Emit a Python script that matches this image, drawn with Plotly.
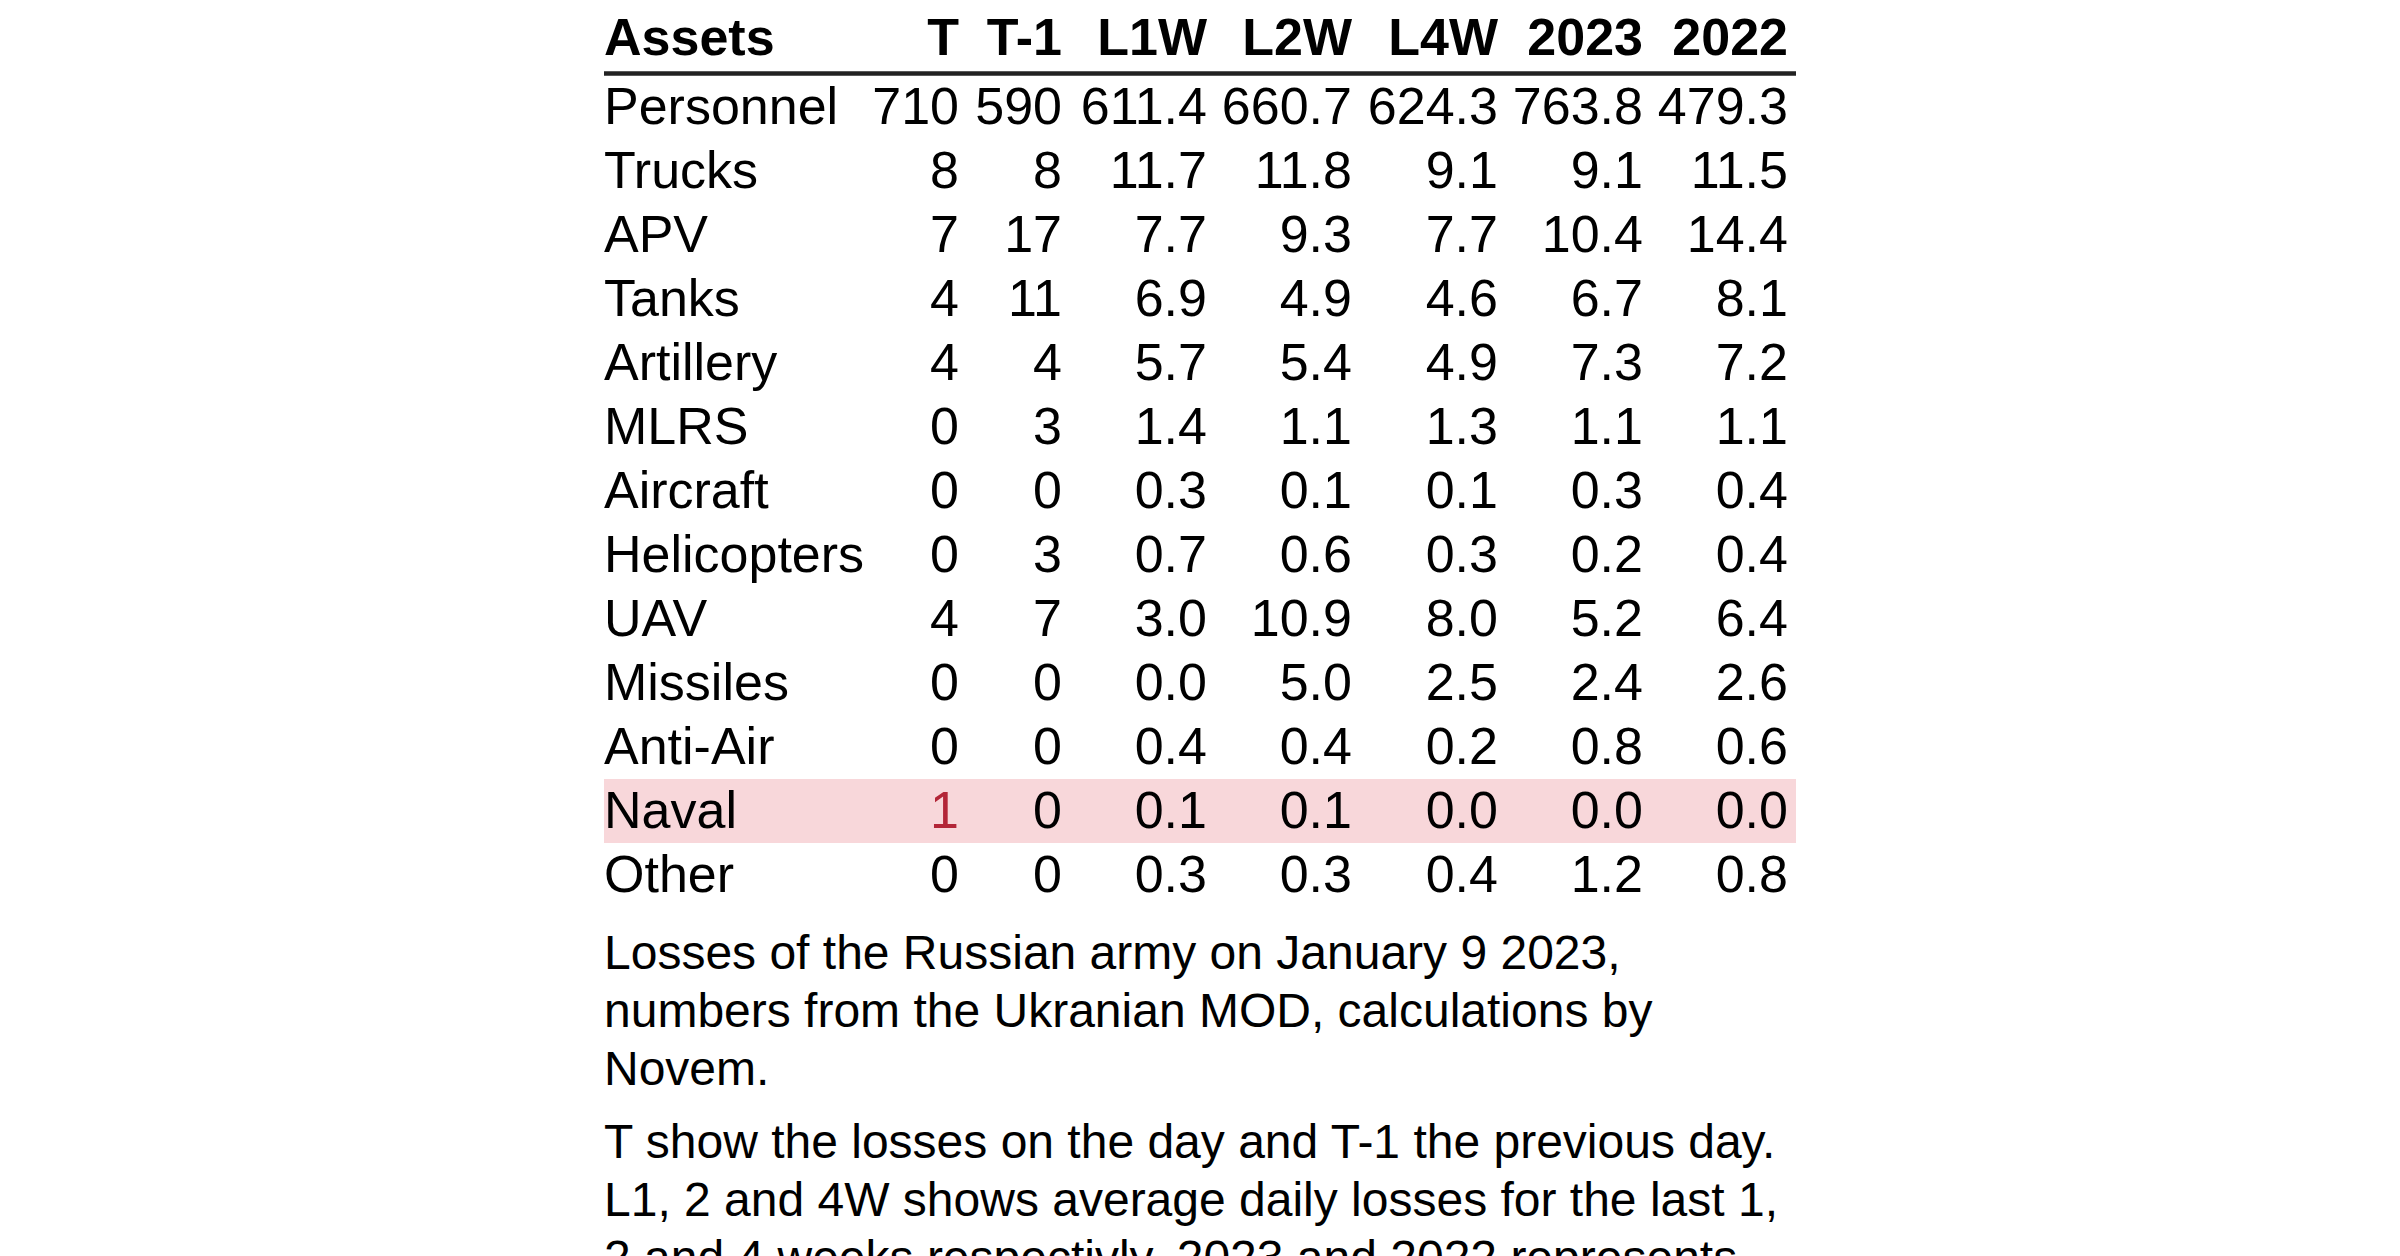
import plotly.graph_objects as go

# table data
columns = ["T", "T-1", "L1W", "L2W", "L4W", "2023", "2022"]
assets = ["Personnel", "Trucks", "APV", "Tanks", "Artillery", "MLRS", "Aircraft",
          "Helicopters", "UAV", "Missiles", "Anti-Air", "Naval", "Other"]
t = [710, 8, 7, 4, 4, 0, 0, 0, 4, 0, 0, 1, 0]
t_1 = [590, 8, 17, 11, 4, 3, 0, 3, 7, 0, 0, 0, 0]
l1w = [611.4, 11.7, 7.7, 6.9, 5.7, 1.4, 0.3, 0.7, 3.0, 0.0, 0.4, 0.1, 0.3]
l2w = [660.7, 11.8, 9.3, 4.9, 5.4, 1.1, 0.1, 0.6, 10.9, 5.0, 0.4, 0.1, 0.3]
l4w = [624.3, 9.1, 7.7, 4.6, 4.9, 1.3, 0.1, 0.3, 8.0, 2.5, 0.2, 0.0, 0.4]
y2023 = [763.8, 9.1, 10.4, 6.7, 7.3, 1.1, 0.3, 0.2, 5.2, 2.4, 0.8, 0.0, 1.2]
y2022 = [479.3, 11.5, 14.4, 8.1, 7.2, 1.1, 0.4, 0.4, 6.4, 2.6, 0.6, 0.0, 0.8]
highlight = [("Naval", "T")]

note_1 = ["Losses of the Russian army on January 9 2023,",
          "numbers from the Ukranian MOD, calculations by",
          "Novem."]
note_2 = ["T show the losses on the day and T-1 the previous day.",
          "L1, 2 and 4W shows average daily losses for the last 1,",
          "2 and 4 weeks respectivly. 2023 and 2022 represents"]

# layout constants (page pixels)
W, H = 2400, 1256
PAGE_OFF = 8          # default body margin of the html page
FONT = "Liberation Sans, Arial, sans-serif"
LEFT = 604
col_widths = [355, 103, 145, 145, 146, 145, 145]   # label col, then numeric cols
PAD_R = 8
TEXT_DY = 5           # plotly puts "middle" text a bit above its anchor
HEADER_Y = 37
HEADER_LINE = 73.5
ROW_H = 64
NOTE_SIZE = 48
NOTE_LH = 58
NOTE_GAP = 73.5

values = [t, t_1, l1w, l2w, l4w, y2023, y2022]
is_int = [True, True, False, False, False, False, False]

col_right = []
acc = LEFT
for w in col_widths:
    acc += w
    col_right.append(acc)
table_right = col_right[-1] + PAD_R
row_y = [HEADER_LINE + 0.5 + ROW_H * (i + 0.5) for i in range(len(assets))]
text_y = [y + TEXT_DY for y in row_y]

fig = go.Figure()

# header
fig.add_trace(go.Scatter(
    x=[LEFT], y=[HEADER_Y + TEXT_DY], mode="text", text=["<b>Assets</b>"],
    textposition="middle right", hoverinfo="skip", cliponaxis=False,
    textfont=dict(family=FONT, size=52, color="black")))
fig.add_trace(go.Scatter(
    x=col_right, y=[HEADER_Y + TEXT_DY] * len(columns), mode="text",
    text=["<b>%s</b>" % c for c in columns],
    textposition="middle left", hoverinfo="skip", cliponaxis=False,
    textfont=dict(family=FONT, size=52, color="black")))

# row labels
fig.add_trace(go.Scatter(
    x=[LEFT] * len(assets), y=text_y, mode="text", text=assets,
    textposition="middle right", hoverinfo="skip",
    textfont=dict(family=FONT, size=52, color="black")))

# numeric columns
for j, col in enumerate(columns):
    txt = [("%d" % v) if is_int[j] else ("%.1f" % v) for v in values[j]]
    colors = ["#b32638" if (a, col) in highlight else "black" for a in assets]
    fig.add_trace(go.Scatter(
        x=[col_right[j]] * len(assets), y=text_y, mode="text", text=txt,
        textposition="middle left", hoverinfo="skip",
        textfont=dict(family=FONT, size=52, color=colors)))

# highlighted rows
for a, col in highlight:
    cy = row_y[assets.index(a)]
    fig.add_shape(type="rect", x0=LEFT, x1=table_right, y0=cy - 31, y1=cy + 33,
                  fillcolor="#f8d7da", line_width=0, layer="below")

# header rule
fig.add_shape(type="line", x0=LEFT, x1=table_right, y0=HEADER_LINE, y1=HEADER_LINE,
              line=dict(color="#222222", width=4.5))

# footnotes
note_top = row_y[-1] + 76.5 + TEXT_DY + 1
note_y = [note_top + NOTE_LH * i for i in range(len(note_1))]
note_y += [note_y[-1] + NOTE_GAP + NOTE_LH * i for i in range(len(note_2))]
fig.add_trace(go.Scatter(
    x=[LEFT] * len(note_y), y=note_y, mode="text", text=note_1 + note_2,
    textposition="middle right", hoverinfo="skip", cliponaxis=False,
    textfont=dict(family=FONT, size=NOTE_SIZE, color="black")))

fig.update_layout(
    width=W, height=H, margin=dict(l=0, r=0, t=0, b=0),
    paper_bgcolor="white", plot_bgcolor="white", showlegend=False,
    xaxis=dict(range=[PAGE_OFF, W + PAGE_OFF], visible=False, fixedrange=True),
    yaxis=dict(range=[H + PAGE_OFF, PAGE_OFF], visible=False, fixedrange=True),
)

fig.write_html("out.html")
